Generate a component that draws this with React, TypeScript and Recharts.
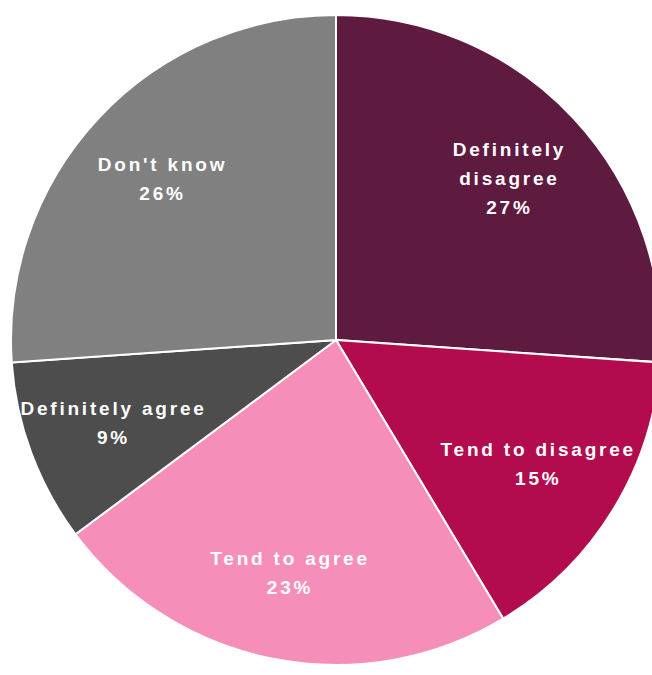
import { Cell, Pie, PieChart } from 'recharts';

const categories = ['Definitely disagree', 'Tend to disagree', 'Tend to agree', 'Definitely agree', "Don't know"];
const shares = [26.1, 15.3, 23.4, 9.1, 26.1];
// percentages as printed on the chart
const percentLabels = ['27%', '15%', '23%', '9%', '26%'];
const labelLines = [['Definitely', 'disagree'], ['Tend to disagree'], ['Tend to agree'], ['Definitely agree'], ["Don't know"]];
const colors = ['#5f1a3f', '#b20c4f', '#f58fb9', '#4d4d4d', '#808080'];

const data = categories.map((name, i) => ({ name, value: shares[i], lines: [...labelLines[i], percentLabels[i]] }));

const RAD = Math.PI / 180;

interface LabelProps {
  cx: number;
  cy: number;
  midAngle: number;
  outerRadius: number;
  index: number;
}

function SliceLabel({ cx, cy, midAngle, outerRadius, index }: LabelProps) {
  const r = outerRadius * 0.73;
  const x = cx + r * Math.cos(-midAngle * RAD);
  const y = cy + r * Math.sin(-midAngle * RAD);
  const lines = data[index].lines;
  const lineH = 29;
  const top = y - ((lines.length - 1) * lineH) / 2;
  return (
    <text
      x={x}
      y={top}
      fill="#ffffff"
      textAnchor="middle"
      dominantBaseline="central"
      fontFamily="'Liberation Sans', Arial, sans-serif"
      fontWeight="bold"
      fontSize={19}
      letterSpacing={2.8}
    >
      {lines.map((line, i) => (
        <tspan key={i} x={x} dy={i === 0 ? 0 : lineH}>
          {line}
        </tspan>
      ))}
    </text>
  );
}

export default function App() {
  return (
    <div style={{ position: 'absolute', left: 0, top: 0, width: 652, height: 675, background: '#ffffff' }}>
      <PieChart width={652} height={675} margin={{ top: 0, right: 0, bottom: 0, left: 0 }}>
        <Pie
          data={data}
          dataKey="value"
          nameKey="name"
          cx={336}
          cy={340}
          outerRadius={325}
          startAngle={90}
          endAngle={-270}
          stroke="#ffffff"
          strokeWidth={2}
          labelLine={false}
          label={SliceLabel as any}
          isAnimationActive={false}
        >
          {data.map((d, i) => (
            <Cell key={d.name} fill={colors[i]} />
          ))}
        </Pie>
      </PieChart>
    </div>
  );
}
